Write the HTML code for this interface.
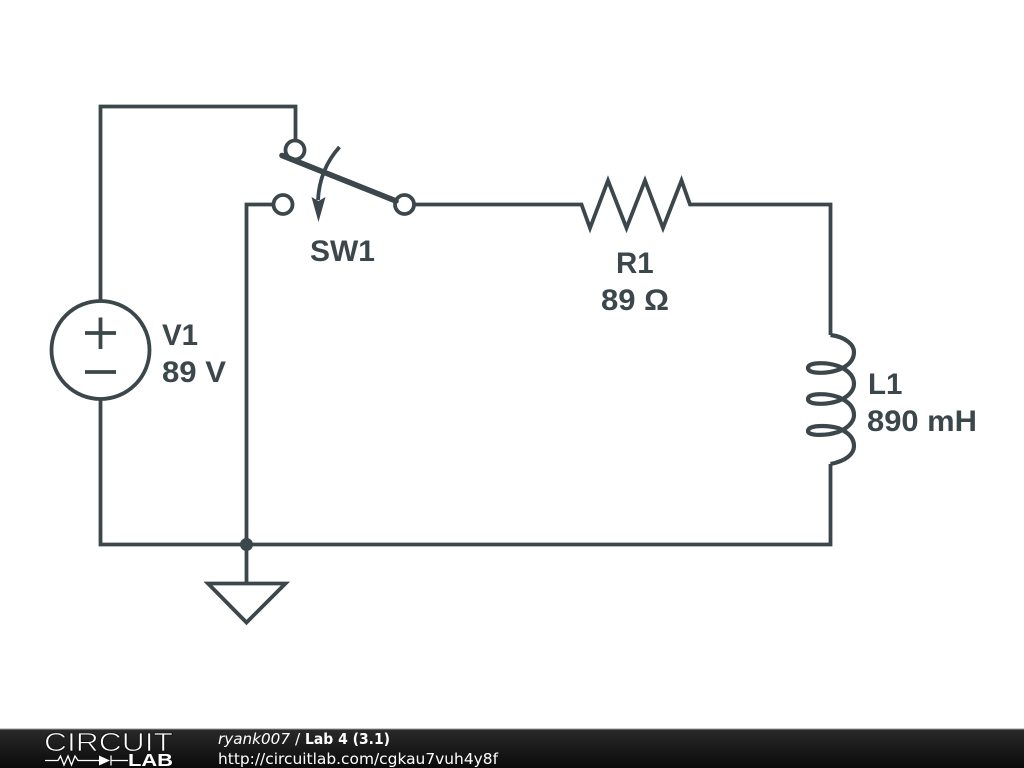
<!DOCTYPE html>
<html>
<head>
<meta charset="utf-8">
<style>
html,body{margin:0;padding:0;background:#fff;width:1024px;height:768px;overflow:hidden}
svg{display:block}
.w{fill:none;stroke:#3c474c;stroke-width:3.8;stroke-linejoin:miter}
.c{fill:none;stroke:#3c474c;stroke-width:4.2}
.t{font-family:"Liberation Sans",sans-serif;font-weight:bold;font-size:29.5px;fill:#3c474c}
.f{font-family:"DejaVu Sans",sans-serif;font-size:15.4px;fill:#fff}
</style>
</head>
<body>
<svg width="1024" height="768" viewBox="0 0 1024 768" xmlns="http://www.w3.org/2000/svg">
<defs>
<linearGradient id="g" x1="0" y1="0" x2="0" y2="1">
<stop offset="0" stop-color="#2a2a2a"/><stop offset="1" stop-color="#0a0a0a"/>
</linearGradient>
</defs>
<rect width="1024" height="768" fill="#fff"/>
<!-- wires -->
<path class="w" d="M100.5 301V106.5H295.5V141"/>
<path class="w" d="M100.5 399V544.5H830.5V464"/>
<path class="w" d="M246.5 544.5V204.5H274"/>
<path class="w" d="M413 204.5H581.5L590 228L608 180.500L626.5 228L645 180.500L663 228L681.5 180.500L690 204.5H830.5V335" stroke-width="4"/>
<!-- V1 -->
<circle class="w" cx="100.5" cy="350" r="49"/>
<path class="w" d="M85 333H116M100.5 317.500V349M85 372H116"/>
<!-- switch -->
<circle class="w" cx="295" cy="150" r="9.500"/>
<circle class="w" cx="283" cy="204.500" r="9.500"/>
<circle class="w" cx="404.500" cy="204.500" r="9.500"/>
<path d="M282 155.500L396 201" fill="none" stroke="#3c474c" stroke-width="5.600" stroke-linecap="round"/>
<path class="w" d="M339.500 147C326 162 319 180 318 200"/>
<path d="M311.500 197L318.500 201L325.500 197L318.500 222Z" fill="#3c474c"/>
<!-- inductor -->
<path class="c" d="M830.500 335C846 337 854 345 854 352C854 362 846 367 838 370C826 374 808 374 808 368C808 362 826 362 838 366C848 370 854 376 854 384C854 392 846 398 838 401C826 405 808 405 808 399C808 393 826 393 838 397C848 401 854 407 854 415C854 423 846 429 838 432C826 436 808 436 808 431C808 425 826 425 838 428C848 432 854 438 854 446C854 454 846 461 830.500 464"/>
<!-- ground -->
<circle cx="246.500" cy="544.500" r="6.500" fill="#3c474c"/>
<path class="w" d="M246.500 544.500V583"/>
<path class="w" d="M208 583.500H285.500L246.500 622.500Z" stroke-linejoin="round"/>
<!-- labels -->
<text class="t" x="310" y="261" textLength="65" lengthAdjust="spacingAndGlyphs">SW1</text>
<text class="t" x="616" y="273">R1</text>
<text class="t" x="601" y="310" textLength="68" lengthAdjust="spacingAndGlyphs">89 Ω</text>
<text class="t" x="162" y="345">V1</text>
<text class="t" x="162" y="382" textLength="64" lengthAdjust="spacingAndGlyphs">89 V</text>
<text class="t" x="868" y="394">L1</text>
<text class="t" x="867" y="431" textLength="110" lengthAdjust="spacingAndGlyphs">890 mH</text>
<!-- footer -->
<rect x="0" y="729" width="1024" height="39" fill="url(#g)"/>
<rect x="0" y="728.500" width="1024" height="1" fill="#999"/>
<text x="44" y="751" font-family="Liberation Sans,sans-serif" font-size="25.500" fill="#fff" stroke="#111" stroke-width="0.800" textLength="129" lengthAdjust="spacingAndGlyphs">CIRCUIT</text>
<text x="128" y="766" font-family="Liberation Sans,sans-serif" font-weight="bold" font-size="17.500" fill="#fff" textLength="45" lengthAdjust="spacingAndGlyphs">LAB</text>
<path d="M45 760.500H58L60.500 756L64 765L68 756L71.500 765L75 756L78 760.500H99M111 755.500V765.500M111 760.500H128" fill="none" stroke="#fff" stroke-width="1.300"/>
<path d="M99 755.500L110 760.500L99 765.500Z" fill="#fff"/>
<text class="f" x="218" y="744" font-style="italic" textLength="72" lengthAdjust="spacingAndGlyphs">ryank007</text>
<text class="f" x="295" y="744">/</text>
<text class="f" x="305" y="744" font-weight="bold" font-size="14" textLength="85" lengthAdjust="spacingAndGlyphs">Lab 4 (3.1)</text>
<text class="f" x="218" y="764" textLength="280" lengthAdjust="spacingAndGlyphs">http://circuitlab.com/cgkau7vuh4y8f</text>
</svg>
</body>
</html>
